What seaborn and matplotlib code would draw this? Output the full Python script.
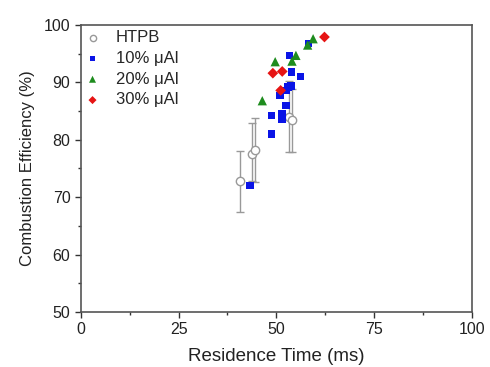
# combustion efficiency vs residence time
# scatter of HTPB and uAl-loaded fuels, HTPB with error bars

import numpy as np
import pandas as pd
import matplotlib
matplotlib.use('Agg')
import matplotlib.pyplot as plt
import seaborn as sns
from matplotlib.ticker import MultipleLocator

# HTPB (open circles, with error bars)
htpb_t = [40.7, 43.8, 44.5, 53.3, 54.0]
htpb_eff = [72.8, 77.5, 78.2, 84.0, 83.4]
htpb_lo = [67.5, 72.9, 72.7, 77.8, 77.8]
htpb_hi = [78.1, 83.0, 83.8, 90.3, 88.8]

# 10% uAl (blue squares)
al10_t = [43.3, 48.8, 48.8, 50.9, 51.4, 51.4, 52.5, 52.5, 53.0, 53.7, 53.4, 53.9, 56.2, 58.2]
al10_eff = [72.0, 84.2, 81.0, 87.7, 84.6, 83.5, 86.0, 88.6, 89.2, 89.4, 94.7, 91.8, 91.0, 96.8]

# 20% uAl (green triangles)
al20_t = [46.4, 49.7, 54.0, 55.0, 58.0, 59.4]
al20_eff = [86.8, 93.6, 93.7, 94.7, 96.5, 97.6]

# 30% uAl (red diamonds)
al30_t = [49.1, 51.5, 51.1, 62.3]
al30_eff = [91.6, 91.9, 88.6, 97.9]

sns.set_style('ticks')
plt.rcParams['font.family'] = ['Liberation Sans', 'DejaVu Sans']

fig = plt.figure(figsize=(4.9, 3.67), dpi=100)
ax = fig.add_axes([0.165, 0.150, 0.798, 0.782])

# error bars for HTPB
htpb_eff_arr = np.array(htpb_eff)
yerr = [htpb_eff_arr - np.array(htpb_lo), np.array(htpb_hi) - htpb_eff_arr]
ax.errorbar(htpb_t, htpb_eff, yerr=yerr, fmt='none', ecolor='#999999',
            elinewidth=1.0, capsize=3, capthick=1.0, zorder=1)

sns.scatterplot(x=htpb_t, y=htpb_eff, ax=ax, marker='o', s=36,
                facecolor='white', edgecolor='#999999', linewidth=1.0,
                label='HTPB', zorder=3)
sns.scatterplot(x=al10_t, y=al10_eff, ax=ax, marker='s', s=30,
                color='#0a14e6', edgecolor='none', label='10% \u03bcAl', zorder=3)
sns.scatterplot(x=al20_t, y=al20_eff, ax=ax, marker='^', s=45,
                color='#1e8c1e', edgecolor='none', label='20% \u03bcAl', zorder=3)
sns.scatterplot(x=al30_t, y=al30_eff, ax=ax, marker='D', s=30,
                color='#e61414', edgecolor='none', label='30% \u03bcAl', zorder=3)

ax.set_xlim(0, 100)
ax.set_ylim(50, 100)
ax.xaxis.set_major_locator(MultipleLocator(25))
ax.xaxis.set_minor_locator(MultipleLocator(12.5))
ax.yaxis.set_major_locator(MultipleLocator(10))
ax.yaxis.set_minor_locator(MultipleLocator(5))
ax.tick_params(which='major', direction='out', length=4, width=1,
               labelsize=11.5, colors='#333333', labelcolor='#222222')
ax.tick_params(which='minor', direction='out', length=2.5, width=1, colors='#333333')
ax.tick_params(top=False, right=False, which='both')
for sp in ax.spines.values():
    sp.set_color('#555555')
    sp.set_linewidth(1.2)

ax.set_xlabel('Residence Time (ms)', fontsize=13.5, color='#222222', labelpad=8)
ax.set_ylabel('Combustion Efficiency (%)', fontsize=12, color='#222222', labelpad=6)

ax.legend(loc='upper left', frameon=False, fontsize=12, handlelength=0.8,
          handletextpad=1.0, borderaxespad=0.1, borderpad=0.2,
          labelspacing=0.35, markerscale=0.75)

fig.savefig('out.png', dpi=100)
